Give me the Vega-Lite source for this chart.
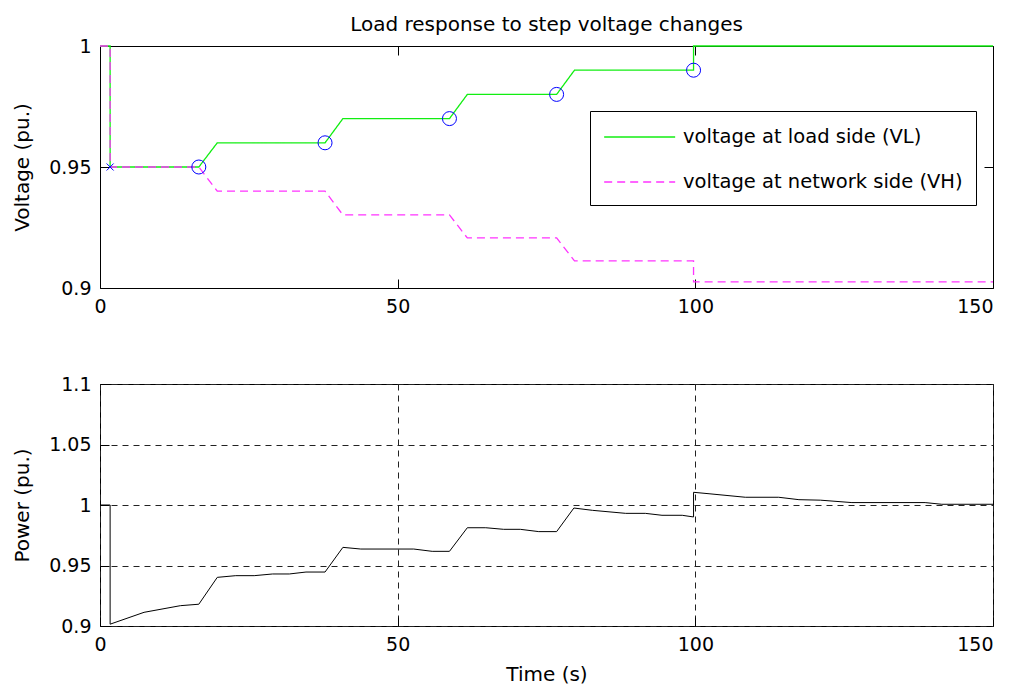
{
  "$schema": "https://vega.github.io/schema/vega-lite/v6.json",
  "background": "white",
  "padding": {"left": 12, "top": 14, "right": 5, "bottom": 5},
  "config": {
    "font": "DejaVu Sans",
    "view": {"stroke": "#000", "strokeWidth": 1},
    "axis": {
      "domain": false,
      "grid": false,
      "ticks": true,
      "tickSize": -9,
      "tickColor": "#000",
      "tickWidth": 1,
      "labelPadding": 18,
      "labelFlush": false,
      "labelFont": "DejaVu Sans",
      "labelFontSize": 19,
      "labelColor": "#000",
      "titleFont": "DejaVu Sans",
      "titleFontSize": 20,
      "titleFontWeight": "normal",
      "titleColor": "#000",
      "gridColor": "#222",
      "gridDash": [6, 5],
      "gridWidth": 1,
      "gridOpacity": 1
    },
    "legend": {
      "title": null,
      "strokeColor": "#000",
      "fillColor": "#fff",
      "padding": 13,
      "symbolType": "M-1,0L5,0",
      "symbolSize": 560,
      "symbolStrokeWidth": 1.4,
      "labelFont": "DejaVu Sans",
      "labelFontSize": 19.5,
      "labelColor": "#000",
      "labelOffset": 54,
      "labelLimit": 400,
      "rowPadding": 22
    },
    "title": {"font": "DejaVu Sans", "fontSize": 20, "fontWeight": "normal", "color": "#000"}
  },
  "datasets": {
    "voltage": [
      {"t": 0, "v": 1.0, "series": "voltage at load side (VL)"},
      {"t": 1.7, "v": 1.0, "series": "voltage at load side (VL)"},
      {"t": 1.7, "v": 0.95, "series": "voltage at load side (VL)"},
      {"t": 16.6, "v": 0.95, "series": "voltage at load side (VL)"},
      {"t": 19.7, "v": 0.96, "series": "voltage at load side (VL)"},
      {"t": 37.8, "v": 0.96, "series": "voltage at load side (VL)"},
      {"t": 40.8, "v": 0.97, "series": "voltage at load side (VL)"},
      {"t": 58.7, "v": 0.97, "series": "voltage at load side (VL)"},
      {"t": 61.7, "v": 0.98, "series": "voltage at load side (VL)"},
      {"t": 76.7, "v": 0.98, "series": "voltage at load side (VL)"},
      {"t": 79.7, "v": 0.99, "series": "voltage at load side (VL)"},
      {"t": 99.7, "v": 0.99, "series": "voltage at load side (VL)"},
      {"t": 99.7, "v": 1.0, "series": "voltage at load side (VL)"},
      {"t": 150, "v": 1.0, "series": "voltage at load side (VL)"},
      {"t": 0, "v": 1.0, "series": "voltage at network side (VH)"},
      {"t": 1.7, "v": 1.0, "series": "voltage at network side (VH)"},
      {"t": 1.7, "v": 0.95, "series": "voltage at network side (VH)"},
      {"t": 16.6, "v": 0.95, "series": "voltage at network side (VH)"},
      {"t": 19.7, "v": 0.94, "series": "voltage at network side (VH)"},
      {"t": 37.8, "v": 0.94, "series": "voltage at network side (VH)"},
      {"t": 40.8, "v": 0.9302, "series": "voltage at network side (VH)"},
      {"t": 58.7, "v": 0.9302, "series": "voltage at network side (VH)"},
      {"t": 61.7, "v": 0.9207, "series": "voltage at network side (VH)"},
      {"t": 76.7, "v": 0.9207, "series": "voltage at network side (VH)"},
      {"t": 79.7, "v": 0.9112, "series": "voltage at network side (VH)"},
      {"t": 99.7, "v": 0.9112, "series": "voltage at network side (VH)"},
      {"t": 99.7, "v": 0.9025, "series": "voltage at network side (VH)"},
      {"t": 150, "v": 0.9025, "series": "voltage at network side (VH)"}
    ],
    "markers": [
      {"t": 1.7, "v": 0.95, "marker": "start"},
      {"t": 16.6, "v": 0.95, "marker": "tap"},
      {"t": 37.8, "v": 0.96, "marker": "tap"},
      {"t": 58.7, "v": 0.97, "marker": "tap"},
      {"t": 76.7, "v": 0.98, "marker": "tap"},
      {"t": 99.7, "v": 0.99, "marker": "tap"}
    ],
    "power": [
      {"t": 0, "p": 1.0},
      {"t": 1.7, "p": 1.0},
      {"t": 1.7, "p": 0.9015},
      {"t": 7.4, "p": 0.9113},
      {"t": 13.5, "p": 0.9168},
      {"t": 16.6, "p": 0.918},
      {"t": 19.7, "p": 0.9402},
      {"t": 22.8, "p": 0.9416},
      {"t": 25.9, "p": 0.9416},
      {"t": 29.0, "p": 0.943},
      {"t": 31.8, "p": 0.943},
      {"t": 34.6, "p": 0.9446},
      {"t": 37.8, "p": 0.9446},
      {"t": 40.8, "p": 0.965},
      {"t": 43.8, "p": 0.9636},
      {"t": 52.7, "p": 0.9636},
      {"t": 55.8, "p": 0.9617},
      {"t": 58.7, "p": 0.9617},
      {"t": 61.7, "p": 0.9812},
      {"t": 64.8, "p": 0.9812},
      {"t": 67.8, "p": 0.9799},
      {"t": 70.6, "p": 0.9799},
      {"t": 73.7, "p": 0.978},
      {"t": 76.7, "p": 0.978},
      {"t": 79.6, "p": 0.9975},
      {"t": 82.7, "p": 0.9956},
      {"t": 88.3, "p": 0.9931},
      {"t": 91.6, "p": 0.9931},
      {"t": 94.4, "p": 0.9915},
      {"t": 97.8, "p": 0.9915},
      {"t": 99.7, "p": 0.9901},
      {"t": 99.7, "p": 1.0105},
      {"t": 102.3, "p": 1.0093},
      {"t": 108.4, "p": 1.0064},
      {"t": 114.0, "p": 1.0064},
      {"t": 117.4, "p": 1.0044},
      {"t": 121.0, "p": 1.004},
      {"t": 126.3, "p": 1.002},
      {"t": 138.6, "p": 1.002},
      {"t": 141.4, "p": 1.0006},
      {"t": 150, "p": 1.0006}
    ]
  },
  "spacing": 96,
  "bounds": "flush",
  "vconcat": [
    {
      "width": 893,
      "height": 242,
      "title": {
        "text": "Load response to step voltage changes",
        "anchor": "middle",
        "frame": "group",
        "baseline": "alphabetic",
        "offset": -14
      },
      "resolve": {"axis": {"x": "independent", "y": "independent"}},
      "layer": [
        {
          "data": {"name": "voltage"},
          "mark": {"type": "line", "strokeWidth": 1.3},
          "encoding": {
            "x": {
              "field": "t",
              "type": "quantitative",
              "scale": {"domain": [0, 150], "nice": false, "zero": false},
              "axis": {
                "title": null,
                "values": [0, 50, 100, 150],
                "labelAlign": {"condition": {"test": "datum.value === 150", "value": "right"}, "value": "center"}
              }
            },
            "y": {
              "field": "v",
              "type": "quantitative",
              "scale": {"domain": [0.9, 1.0], "nice": false, "zero": false},
              "axis": {"title": "Voltage (pu.)", "values": [0.9, 0.95, 1.0], "format": "~g", "titlePadding": 16}
            },
            "color": {
              "field": "series",
              "type": "nominal",
              "scale": {
                "domain": ["voltage at load side (VL)", "voltage at network side (VH)"],
                "range": ["#11ee11", "#ff33ff"]
              },
              "legend": {"orient": "none", "legendX": 490, "legendY": 65}
            },
            "strokeDash": {
              "field": "series",
              "type": "nominal",
              "scale": {
                "domain": ["voltage at load side (VL)", "voltage at network side (VH)"],
                "range": [[1, 0], [8, 5]]
              },
              "legend": {"orient": "none", "legendX": 490, "legendY": 65}
            },
            "order": {"value": null}
          }
        },
        {
          "data": {"name": "markers"},
          "transform": [{"filter": "datum.marker === 'tap'"}],
          "mark": {"type": "point", "shape": "circle", "filled": false, "color": "#0000ff", "strokeWidth": 1, "size": 196, "opacity": 1},
          "encoding": {
            "x": {
              "field": "t",
              "type": "quantitative",
              "scale": {"domain": [0, 150], "nice": false, "zero": false},
              "axis": {"orient": "top", "title": null, "labels": false, "values": [0, 50, 100, 150]}
            },
            "y": {
              "field": "v",
              "type": "quantitative",
              "scale": {"domain": [0.9, 1.0], "nice": false, "zero": false},
              "axis": {"orient": "right", "title": null, "labels": false, "values": [0.9, 0.95, 1.0]}
            }
          }
        },
        {
          "data": {"name": "markers"},
          "transform": [{"filter": "datum.marker === 'start'"}],
          "mark": {"type": "point", "shape": "M-1,-1L1,1M-1,1L1,-1", "filled": false, "color": "#0000ff", "strokeWidth": 1, "size": 49, "opacity": 1},
          "encoding": {
            "x": {"field": "t", "type": "quantitative", "scale": {"domain": [0, 150], "nice": false, "zero": false}, "axis": null},
            "y": {"field": "v", "type": "quantitative", "scale": {"domain": [0.9, 1.0], "nice": false, "zero": false}, "axis": null}
          }
        }
      ]
    },
    {
      "width": 893,
      "height": 242,
      "data": {"name": "power"},
      "mark": {"type": "line", "color": "#000", "strokeWidth": 1},
      "encoding": {
        "x": {
          "field": "t",
          "type": "quantitative",
          "scale": {"domain": [0, 150], "nice": false, "zero": false},
          "axis": {
            "title": "Time (s)",
            "grid": true,
            "values": [0, 50, 100, 150],
            "titlePadding": 10,
            "labelAlign": {"condition": {"test": "datum.value === 150", "value": "right"}, "value": "center"}
          }
        },
        "y": {
          "field": "p",
          "type": "quantitative",
          "scale": {"domain": [0.9, 1.1], "nice": false, "zero": false},
          "axis": {"title": "Power (pu.)", "grid": true, "values": [0.9, 0.95, 1.0, 1.05, 1.1], "format": "~g", "titlePadding": 16}
        },
        "order": {"value": null}
      }
    }
  ]
}
